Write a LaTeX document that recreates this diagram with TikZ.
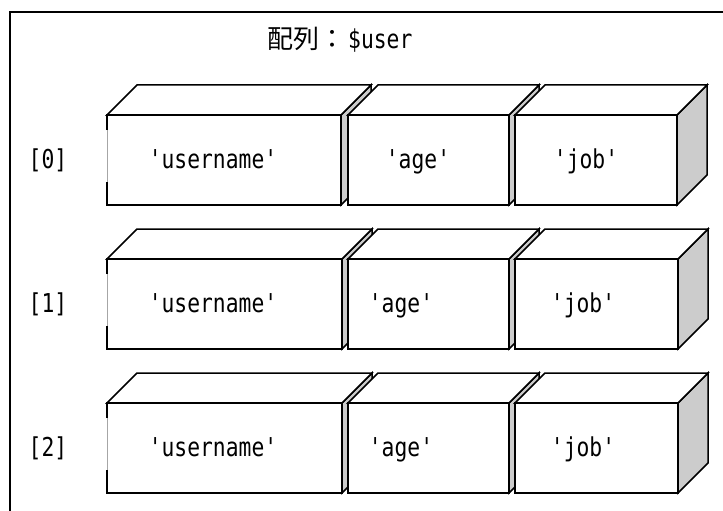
\documentclass[tikz,border=0pt]{standalone}
\usepackage{fontspec}
\setmonofont[FakeStretch=0.82]{DejaVu Sans Mono}
\newfontfamily\cjk{Noto Sans CJK JP}
\definecolor{sidegray}{HTML}{CCCCCC}
\tikzset{
  edge/.style={line width=1.5pt, line join=miter},
  side/.style={edge, fill=sidegray},
  face/.style={edge, fill=white},
  txt/.style={font=\ttfamily\fontsize{26}{26}\selectfont, inner sep=0pt, anchor=base},
  frame/.style={line width=1.5pt},
}
% #1 = left x, #2 = right x, #3 = top y of front face
\newcommand\cubebox[3]{%
  \draw[side] (#2,#3) -- (#2+30,#3-30) -- (#2+30,#3+60) -- (#2,#3+90) -- cycle;
  \draw[face] (#1,#3) -- (#1+30,#3-30) -- (#2+30,#3-30) -- (#2,#3) -- cycle;
  \draw[face] (#1,#3) rectangle (#2,#3+90);
}
\newcommand\firstcube[3]{%
  \draw[side] (#2,#3) -- (#2+30,#3-30) -- (#2+30,#3+60) -- (#2,#3+90) -- cycle;
  \draw[face] (#1,#3) -- (#1+30,#3-30) -- (#2+30,#3-30) -- (#2,#3) -- cycle;
  \fill[white] (#1,#3) rectangle (#2,#3+90);
  \draw[edge] (#1,#3+15) -- (#1,#3) -- (#2,#3) -- (#2,#3+90) -- (#1,#3+90) -- (#1,#3+67);
  \draw[black!35, line width=0.6pt] (#1,#3+15) -- (#1,#3+67);
}
\begin{document}
\begin{tikzpicture}[x=1pt,y=-1pt]
  \useasboundingbox (0,0) rectangle (723,511);
  \clip (0,0) rectangle (723,511);
  \fill[white] (0,0) rectangle (723,511);
  \draw[frame] (10,12) rectangle (740,530);

  \node[inner sep=0pt, anchor=base west] (title) at (267,49)
    {{\cjk\fontsize{26}{26}\selectfont 配列：}\hspace{3pt}{\ttfamily\fontsize{26}{26}\selectfont\$user}};

  % row 0
  \firstcube{107}{341}{115}
  \cubebox{348}{509}{115}
  \cubebox{515}{677}{115}
  % row 1
  \firstcube{107}{342}{259}
  \cubebox{348}{509}{259}
  \cubebox{515}{678}{259}
  % row 2
  \firstcube{107}{342}{403}
  \cubebox{348}{509}{403}
  \cubebox{515}{678}{403}

  \node[txt] (i0) at (48,168) {[0]};
  \node[txt] (i1) at (48,312) {[1]};
  \node[txt] (i2) at (48,456) {[2]};

  \node[txt] (u0) at (213,168) {'username'};
  \node[txt] (a0) at (418,168) {'age'};
  \node[txt] (j0) at (586,168) {'job'};

  \node[txt] (u1) at (213,312) {'username'};
  \node[txt] (a1) at (401,312) {'age'};
  \node[txt] (j1) at (583,312) {'job'};

  \node[txt] (u2) at (213,456) {'username'};
  \node[txt] (a2) at (401,456) {'age'};
  \node[txt] (j2) at (583,456) {'job'};
\end{tikzpicture}
\end{document}
